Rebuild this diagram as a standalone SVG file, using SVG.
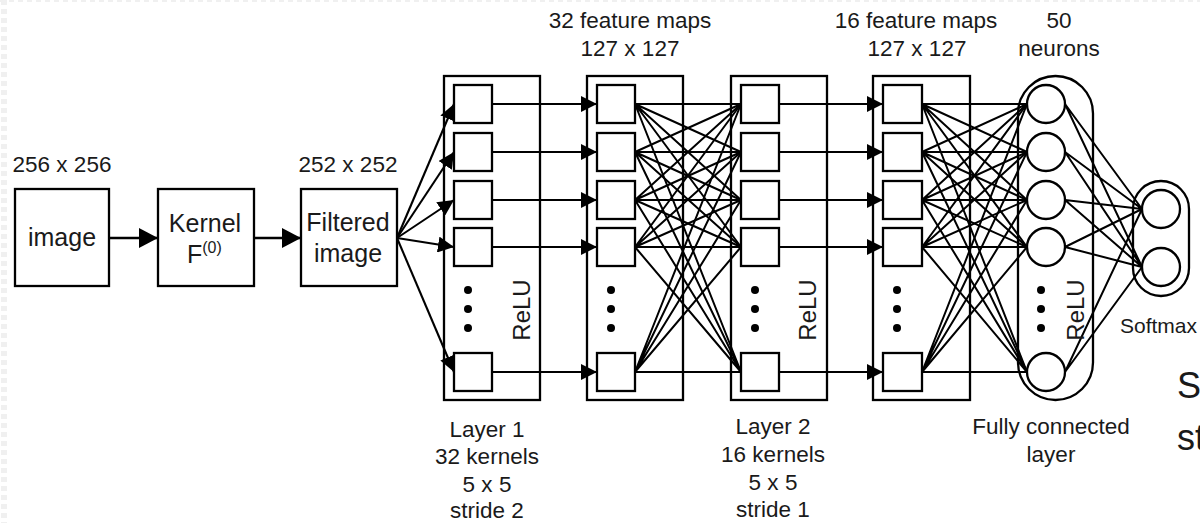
<svg xmlns="http://www.w3.org/2000/svg" width="1200" height="523" viewBox="0 0 1200 523">
<defs>
<marker id="ah" markerUnits="userSpaceOnUse" markerWidth="16" markerHeight="16" refX="16" refY="8" orient="auto"><path d="M0,0 L16,8 L0,16 z" fill="#000"/></marker>
<marker id="ahb" markerUnits="userSpaceOnUse" markerWidth="19" markerHeight="20" refX="19" refY="10" orient="auto"><path d="M0,0 L19,10 L0,20 z" fill="#000"/></marker>
<style>
.box{fill:#fff;stroke:#000;stroke-width:2.3}
.frame{fill:none;stroke:#000;stroke-width:2.3}
.cell{fill:#fff;stroke:#000;stroke-width:2.3}
.ln{fill:none;stroke:#000;stroke-width:2}
.arr{fill:none;stroke:#000;stroke-width:2.1;marker-end:url(#ah)}
.arrb{fill:none;stroke:#000;stroke-width:2.3;marker-end:url(#ahb)}
text{font-family:"Liberation Sans",Arial,sans-serif;fill:#1a1a1a}
.lbl{font-size:25px;text-anchor:middle}
.ann{font-size:22.5px;text-anchor:middle}
.relu{font-size:24px;text-anchor:middle}
.dot{fill:#000}
</style>
</defs>
<rect width="1200" height="523" fill="#fff"/>
<line x1="4" y1="0" x2="4" y2="523" stroke="#f0f0f0" stroke-width="6" stroke-dasharray="5 4"/>
<line x1="0" y1="1" x2="1200" y2="1" stroke="#f0f0f0" stroke-width="2" stroke-dasharray="5 4"/>

<g id="connectors">
<line class="arrb" x1="109" y1="238" x2="158" y2="238"/>
<line class="arrb" x1="254" y1="238" x2="301" y2="238"/>
<line class="arr" x1="397" y1="238" x2="454" y2="104"/>
<line class="arr" x1="397" y1="238" x2="454" y2="152"/>
<line class="arr" x1="397" y1="238" x2="454" y2="200"/>
<line class="arr" x1="397" y1="238" x2="454" y2="247"/>
<line class="arr" x1="397" y1="238" x2="454" y2="372"/>
<line class="arr" x1="492" y1="104" x2="597" y2="104"/>
<line class="arr" x1="492" y1="152" x2="597" y2="152"/>
<line class="arr" x1="492" y1="200" x2="597" y2="200"/>
<line class="arr" x1="492" y1="247" x2="597" y2="247"/>
<line class="arr" x1="492" y1="372" x2="597" y2="372"/>
<path class="ln" d="M635,104 L741,104 M635,104 L741,152 M635,104 L741,200 M635,104 L741,247 M635,104 L741,372"/>
<path class="ln" d="M635,152 L741,104 M635,152 L741,152 M635,152 L741,200 M635,152 L741,247 M635,152 L741,372"/>
<path class="ln" d="M635,200 L741,104 M635,200 L741,152 M635,200 L741,200 M635,200 L741,247 M635,200 L741,372"/>
<path class="ln" d="M635,247 L741,104 M635,247 L741,152 M635,247 L741,200 M635,247 L741,247 M635,247 L741,372"/>
<path class="ln" d="M635,372 L741,104 M635,372 L741,152 M635,372 L741,200 M635,372 L741,247 M635,372 L741,372"/>
<line class="arr" x1="779" y1="104" x2="883" y2="104"/>
<line class="arr" x1="779" y1="152" x2="883" y2="152"/>
<line class="arr" x1="779" y1="200" x2="883" y2="200"/>
<line class="arr" x1="779" y1="247" x2="883" y2="247"/>
<line class="arr" x1="779" y1="372" x2="883" y2="372"/>
<path class="ln" d="M922,104 L1027,104 M922,104 L1027,152 M922,104 L1027,200 M922,104 L1027,247 M922,104 L1027,372"/>
<path class="ln" d="M922,152 L1027,104 M922,152 L1027,152 M922,152 L1027,200 M922,152 L1027,247 M922,152 L1027,372"/>
<path class="ln" d="M922,200 L1027,104 M922,200 L1027,152 M922,200 L1027,200 M922,200 L1027,247 M922,200 L1027,372"/>
<path class="ln" d="M922,247 L1027,104 M922,247 L1027,152 M922,247 L1027,200 M922,247 L1027,247 M922,247 L1027,372"/>
<path class="ln" d="M922,372 L1027,104 M922,372 L1027,152 M922,372 L1027,200 M922,372 L1027,247 M922,372 L1027,372"/>
<path class="ln" d="M1065,104 L1142,209 M1065,104 L1142,267 M1065,152 L1142,209 M1065,152 L1142,267 M1065,200 L1142,209 M1065,200 L1142,267 M1065,247 L1142,209 M1065,247 L1142,267 M1065,372 L1142,209 M1065,372 L1142,267"/>
</g>

<g id="input-image">
<text class="ann" x="62" y="172">256 x 256</text>
<rect class="box" x="15" y="189" width="94" height="97"/>
<text class="lbl" x="62" y="246">image</text>
</g>

<g id="kernel">
<rect class="box" x="158" y="189" width="96" height="97"/>
<text class="lbl" x="205" y="232">Kernel</text>
<text x="187" y="263" font-size="25">F<tspan font-size="16" dy="-10">(0)</tspan></text>
</g>

<g id="filtered-image">
<text class="ann" x="348" y="172">252 x 252</text>
<rect class="box" x="301" y="189" width="96" height="97"/>
<text class="lbl" x="348" y="231">Filtered</text>
<text class="lbl" x="348" y="262">image</text>
</g>

<g id="layer1">
<rect class="frame" x="444" y="76" width="96" height="324"/>
<rect class="cell" x="454" y="85" width="38" height="38"/>
<rect class="cell" x="454" y="133" width="38" height="38"/>
<rect class="cell" x="454" y="181" width="38" height="38"/>
<rect class="cell" x="454" y="228" width="38" height="38"/>
<rect class="cell" x="454" y="353" width="38" height="38"/>
<circle class="dot" cx="468" cy="290" r="4"/>
<circle class="dot" cx="468" cy="309" r="4"/>
<circle class="dot" cx="468" cy="328" r="4"/>
<text class="relu" transform="translate(530,310) rotate(-90)">ReLU</text>
<text class="ann" x="487" y="437">Layer 1</text>
<text class="ann" x="487" y="464">32 kernels</text>
<text class="ann" x="487" y="492">5 x 5</text>
<text class="ann" x="487" y="518">stride 2</text>
</g>

<g id="maps32">
<text class="ann" x="630" y="28">32 feature maps</text>
<text class="ann" x="630" y="56">127 x 127</text>
<rect class="frame" x="587" y="76" width="96" height="324"/>
<rect class="cell" x="597" y="85" width="38" height="38"/>
<rect class="cell" x="597" y="133" width="38" height="38"/>
<rect class="cell" x="597" y="181" width="38" height="38"/>
<rect class="cell" x="597" y="228" width="38" height="38"/>
<rect class="cell" x="597" y="353" width="38" height="38"/>
<circle class="dot" cx="611" cy="290" r="4"/>
<circle class="dot" cx="611" cy="309" r="4"/>
<circle class="dot" cx="611" cy="328" r="4"/>
</g>

<g id="layer2">
<rect class="frame" x="731" y="76" width="96" height="324"/>
<rect class="cell" x="741" y="85" width="38" height="38"/>
<rect class="cell" x="741" y="133" width="38" height="38"/>
<rect class="cell" x="741" y="181" width="38" height="38"/>
<rect class="cell" x="741" y="228" width="38" height="38"/>
<rect class="cell" x="741" y="353" width="38" height="38"/>
<circle class="dot" cx="755" cy="290" r="4"/>
<circle class="dot" cx="755" cy="309" r="4"/>
<circle class="dot" cx="755" cy="328" r="4"/>
<text class="relu" transform="translate(816,310) rotate(-90)">ReLU</text>
<text class="ann" x="773" y="434">Layer 2</text>
<text class="ann" x="773" y="462">16 kernels</text>
<text class="ann" x="773" y="490">5 x 5</text>
<text class="ann" x="773" y="517">stride 1</text>
</g>

<g id="maps16">
<text class="ann" x="916" y="28">16 feature maps</text>
<text class="ann" x="917" y="56">127 x 127</text>
<rect class="frame" x="873" y="76" width="97" height="324"/>
<rect class="cell" x="883" y="85" width="39" height="38"/>
<rect class="cell" x="883" y="133" width="39" height="38"/>
<rect class="cell" x="883" y="181" width="39" height="38"/>
<rect class="cell" x="883" y="228" width="39" height="38"/>
<rect class="cell" x="883" y="353" width="39" height="38"/>
<circle class="dot" cx="897" cy="290" r="4"/>
<circle class="dot" cx="897" cy="309" r="4"/>
<circle class="dot" cx="897" cy="328" r="4"/>
</g>

<g id="fully-connected">
<text class="ann" x="1059" y="28">50</text>
<text class="ann" x="1059" y="56">neurons</text>
<rect class="frame" x="1018" y="76" width="75" height="324" rx="37.5" ry="37.5"/>
<circle class="cell" cx="1046" cy="104" r="19"/>
<circle class="cell" cx="1046" cy="152" r="19"/>
<circle class="cell" cx="1046" cy="200" r="19"/>
<circle class="cell" cx="1046" cy="247" r="19"/>
<circle class="cell" cx="1046" cy="372" r="19"/>
<circle class="dot" cx="1041" cy="290" r="4"/>
<circle class="dot" cx="1041" cy="309" r="4"/>
<circle class="dot" cx="1041" cy="328" r="4"/>
<text class="relu" transform="translate(1084,310) rotate(-90)">ReLU</text>
<text class="ann" x="1051" y="434">Fully connected</text>
<text class="ann" x="1051" y="462">layer</text>
</g>

<g id="softmax">
<rect class="frame" x="1133" y="181" width="56" height="115" rx="28" ry="28"/>
<circle class="cell" cx="1161" cy="209" r="19"/>
<circle class="cell" cx="1161" cy="267" r="19"/>
<text x="1120" y="333" font-size="21">Softmax</text>
</g>

<g id="slide-text">
<text x="1177" y="398" font-size="36">S</text>
<text x="1177" y="450" font-size="36">st</text>
</g>
</svg>
